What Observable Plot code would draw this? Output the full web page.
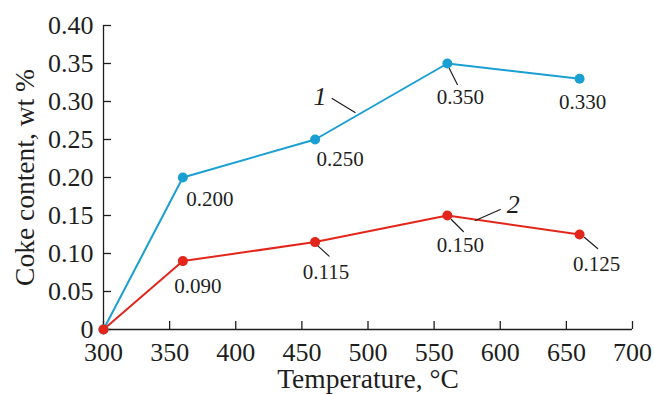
<!DOCTYPE html>
<html><head><meta charset="utf-8">
<script src="https://cdn.jsdelivr.net/npm/d3@7"></script>
<script src="https://cdn.jsdelivr.net/npm/@observablehq/plot@0.6"></script>
<style>body{margin:0;background:#fff} svg{display:block}</style>
</head><body><div id="chart"></div>
<script>
// ---- data ----
const temperatures = [300, 360, 460, 560, 660];
const coke1 = [0, 0.200, 0.250, 0.350, 0.330];
const coke2 = [0, 0.090, 0.115, 0.150, 0.125];
const valueLabels1 = ["", "0.200", "0.250", "0.350", "0.330"];
const valueLabels2 = ["", "0.090", "0.115", "0.150", "0.125"];
const seriesNames = ["1", "2"];
const xTicks = [300, 350, 400, 450, 500, 550, 600, 650, 700];
const yTicks = [0, 0.05, 0.10, 0.15, 0.20, 0.25, 0.30, 0.35, 0.40];
const yTickLabels = ["0", "0.05", "0.10", "0.15", "0.20", "0.25", "0.30", "0.35", "0.40"];
const xTitle = "Temperature, °C";
const yTitle = "Coke content, wt %";

// ---- layout (pixel nudges for annotations) ----
const labelNudge1 = [null, [27, 22], [25, 20], [13, 34], [3, 24]];
const labelNudge2 = [null, [15, 25], [11, 30], [13, 30], [17, 30]];
const leaders1 = [null, null, null, [2, 5, 10, 21], null];
const leaders2 = [null, null, [3, 4, 14, 14], [4, 4, 16, 16], [5, 3, 18, 14]];
const seriesTag = [{i: 2, text: [5, -43], line: [17, -41, 40, -27]}, {i: 3, text: [66, -11], line: [28, 5, 53, -6]}];

const BLUE = "#1a9fd3", RED = "#e2261c", INK = "#1e1e1e";
const FONT = "'Liberation Serif', 'Times New Roman', serif";
const rows1 = temperatures.map((t, i) => ({t, v: coke1[i], label: valueLabels1[i]}));
const rows2 = temperatures.map((t, i) => ({t, v: coke2[i], label: valueLabels2[i]}));

const lineShape = {draw(context, l) { context.moveTo(0, 0); context.lineTo(0, -l); }};
function leader(row, [sx, sy, ex, ey]) {
  const ddx = ex - sx, ddy = ey - sy;
  return Plot.vector([row], {
    x: "t", y: "v", dx: sx, dy: sy,
    length: Math.hypot(ddx, ddy),
    rotate: Math.atan2(ddx, -ddy) * 180 / Math.PI,
    anchor: "start", shape: lineShape, stroke: INK, strokeWidth: 1.2
  });
}

const marks = [
  Plot.ruleY([yTicks[0]], {stroke: INK, strokeWidth: 1.3}),
  Plot.ruleX([xTicks[0]], {stroke: INK, strokeWidth: 1.3}),
  Plot.axisX(xTicks, {
    tickSize: -8, tickPadding: 21, fontSize: 26, stroke: INK, strokeWidth: 1.3,
    tickFormat: d => String(d), label: null
  }),
  Plot.axisY(yTicks, {
    tickSize: -8, tickPadding: 18, fontSize: 26, stroke: INK, strokeWidth: 1.3,
    tickFormat: d => yTickLabels[yTicks.indexOf(d)], label: null
  }),
  Plot.text([xTitle], {frameAnchor: "bottom", text: d => d, dy: 50, textAnchor: "middle", lineAnchor: "middle", fontSize: 27.5, fill: INK}),
  Plot.text([yTitle], {frameAnchor: "left", text: d => d, dx: -78, rotate: -90, textAnchor: "middle", lineAnchor: "middle", fontSize: 27.5, fill: INK}),
  Plot.line(rows1, {x: "t", y: "v", stroke: BLUE, strokeWidth: 2}),
  Plot.line(rows2, {x: "t", y: "v", stroke: RED, strokeWidth: 2}),
  Plot.dot(rows1, {x: "t", y: "v", r: 5, fill: BLUE}),
  Plot.dot(rows2, {x: "t", y: "v", r: 5, fill: RED})
];

[[rows1, labelNudge1, leaders1], [rows2, labelNudge2, leaders2]].forEach(([rows, nudges, leads]) => {
  rows.forEach((row, i) => {
    if (nudges[i]) marks.push(Plot.text([row], {x: "t", y: "v", text: "label", dx: nudges[i][0], dy: nudges[i][1], fontSize: 21, fill: INK}));
    if (leads[i]) marks.push(leader(row, leads[i]));
  });
});
[rows1, rows2].forEach((rows, s) => {
  const tag = seriesTag[s];
  const row = rows[tag.i];
  marks.push(Plot.text([row], {x: "t", y: "v", text: () => seriesNames[s], dx: tag.text[0], dy: tag.text[1], fontSize: 26, fontStyle: "italic", fill: INK}));
  marks.push(leader(row, tag.line));
});

const chart = Plot.plot({
  width: 654, height: 394,
  marginLeft: 103, marginRight: 22, marginTop: 25, marginBottom: 65,
  style: {fontFamily: FONT, fontSize: "26px", color: INK, background: "#fff"},
  x: {domain: [300, 700]},
  y: {domain: [0, 0.40]},
  marks
});
document.getElementById("chart").append(chart);
</script>
</body></html>
